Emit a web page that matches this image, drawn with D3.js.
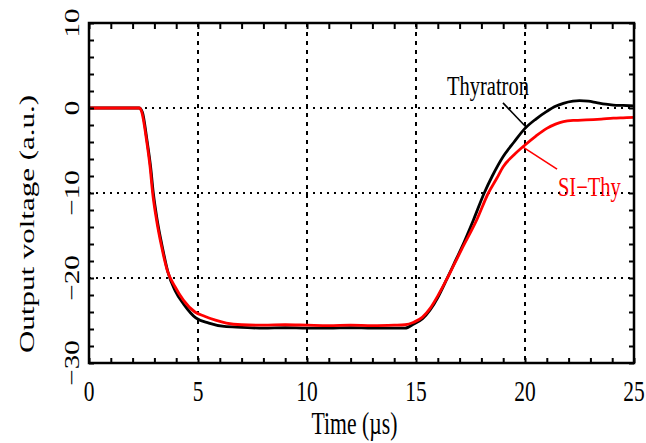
<!DOCTYPE html>
<html>
<head>
<meta charset="utf-8">
<script src="https://cdn.jsdelivr.net/npm/d3@7"></script>
<style>
  html, body { margin: 0; padding: 0; background: #fff; }
  svg { display: block; }
  text { font-family: "Liberation Serif", "Times New Roman", serif; }
</style>
</head>
<body>
<svg id="chart" width="646" height="443"></svg>
<script>
// ---- data ----
const thyTime = [0, 2.3, 2.45, 2.66, 2.83, 2.95, 3.13, 3.36, 3.62, 3.95, 4.35, 4.9, 5.5, 6.2, 7, 8, 9, 10, 11, 12, 13, 14, 14.5, 14.9, 15.3, 15.64, 16.0, 16.4, 16.75, 17.1, 17.63, 18.13, 18.5, 19.0, 19.5, 20.0, 20.5, 21.0, 21.4, 21.76, 22.2, 22.5, 22.9, 23.28, 23.7, 24.05, 24.5, 25];
const thyVolt = [0, 0, -0.5, -3.8, -7, -10, -13.2, -16.3, -19.3, -21.5, -23.1, -24.7, -25.3, -25.7, -25.8, -25.9, -25.85, -25.9, -25.9, -25.85, -25.9, -25.9, -25.9, -25.4, -24.8, -23.8, -22.3, -20.2, -18.3, -16.4, -13.2, -10, -8, -5.7, -4, -2.4, -1.3, -0.4, 0.2, 0.55, 0.8, 0.86, 0.8, 0.63, 0.45, 0.35, 0.3, 0.24];
const siTime = [0, 2.3, 2.41, 2.64, 2.8, 2.92, 3.1, 3.33, 3.59, 3.94, 4.33, 4.86, 5.3, 5.8, 6.3, 7, 8, 9, 10, 11, 12, 13, 14, 14.5, 14.9, 15.3, 15.64, 16.0, 16.4, 16.75, 17.1, 17.78, 18.32, 18.7, 19.0, 19.5, 20.0, 20.5, 21.0, 21.4, 21.76, 22.3, 22.8, 23.5, 24.05, 24.5, 25];
const siVolt = [0, 0, -0.4, -3.8, -6.9, -10, -13.2, -16.3, -19.1, -21, -22.6, -24.0, -24.5, -24.95, -25.3, -25.5, -25.55, -25.5, -25.55, -25.6, -25.55, -25.6, -25.55, -25.5, -25.2, -24.6, -23.6, -22.1, -20.2, -18.4, -16.6, -13.2, -10, -8.3, -6.9, -5.5, -4.35, -3.3, -2.4, -1.9, -1.6, -1.45, -1.4, -1.3, -1.2, -1.15, -1.1];

const xTicks = [0, 5, 10, 15, 20, 25];
const yTicks = [-30, -20, -10, 0, 10];
const xGrid = [5, 10, 15, 20];
const yGrid = [-20, -10, 0];
const xTitle = "Time (\u00b5s)";
const yTitle = "Output voltage (a.u.)";
const seriesNames = ["Thyratron", "SI\u2212Thy"];
const seriesColors = ["#000000", "#ff0000"];
// annotation: [label x, label y, leader start x, y, leader end x, y] in data units
const thyLabel = [18.3, 1.5, 18.99, 0.6, 20.09, -2.35];
const siLabel = [22.95, -10.3, 21.47, -7.2, 19.91, -4.6];

// ---- layout ----
const svg = d3.select("#chart");
const L = 89, R = 634, T = 23, B = 363;
const x = d3.scaleLinear().domain([0, 25]).range([L, R]);
const y = d3.scaleLinear().domain([-30, 10]).range([B, T]);
const KX = 0.74;   // horizontal condensation of the glyphs

// grid
const grid = svg.append("g");
grid.selectAll("line.gx").data(xGrid).join("line")
  .attr("x1", d => x(d)).attr("x2", d => x(d))
  .attr("y1", T).attr("y2", B)
  .attr("stroke", "#000").attr("stroke-width", 2)
  .attr("stroke-dasharray", "4,5");
grid.selectAll("line.gy").data(yGrid).join("line")
  .attr("y1", d => y(d)).attr("y2", d => y(d))
  .attr("x1", L).attr("x2", R)
  .attr("stroke", "#000").attr("stroke-width", 2.2)
  .attr("stroke-dasharray", "2,5");

// curves
const line = d3.line().x(d => x(d[0])).y(d => y(d[1])).curve(d3.curveMonotoneX);
const thy = thyTime.map((t, i) => [t, thyVolt[i]]);
const si = siTime.map((t, i) => [t, siVolt[i]]);
svg.append("path").datum(thy).attr("d", line)
  .attr("fill", "none").attr("stroke", seriesColors[0]).attr("stroke-width", 2.8)
  .attr("stroke-linejoin", "round");
svg.append("path").datum(si).attr("d", line)
  .attr("fill", "none").attr("stroke", seriesColors[1]).attr("stroke-width", 2.8)
  .attr("stroke-linejoin", "round");

// axes with inward ticks on all four sides
const minorX = d3.range(0, 26, 1);
const minorY = d3.range(-30, 11, 2);
const axB = d3.axisBottom(x).tickValues(minorX).tickSize(-5).tickFormat("");
const axT = d3.axisTop(x).tickValues(minorX).tickSize(-6).tickFormat("");
const axL = d3.axisLeft(y).tickValues(minorY).tickSize(-5).tickFormat("");
const axR = d3.axisRight(y).tickValues(minorY).tickSize(-5).tickFormat("");
function styleAx(g) {
  g.select(".domain").remove();
  g.selectAll(".tick line").attr("stroke", "#000").attr("stroke-width", 2);
}
svg.append("g").attr("transform", `translate(0,${B})`).call(axB).call(styleAx);
svg.append("g").attr("transform", `translate(0,${T})`).call(axT).call(styleAx);
svg.append("g").attr("transform", `translate(${L},0)`).call(axL).call(styleAx);
svg.append("g").attr("transform", `translate(${R},0)`).call(axR).call(styleAx);
svg.append("rect").attr("x", L).attr("y", T).attr("width", R - L).attr("height", B - T)
  .attr("fill", "none").attr("stroke", "#000").attr("stroke-width", 2.5);

// tick labels
const fmt = d => (d < 0 ? "\u2212" + Math.abs(d) : String(d));
svg.selectAll("text.xl").data(xTicks).join("text")
  .attr("transform", d => `translate(${x(d)},401) scale(${KX},1)`)
  .attr("text-anchor", "middle").attr("font-size", 29).attr("fill", "#000")
  .text(fmt);
svg.selectAll("text.yl").data(yTicks).join("text")
  .attr("transform", d => `translate(79,${y(d)}) scale(${KX},1) rotate(-90)`)
  .attr("text-anchor", "middle").attr("font-size", 29).attr("fill", "#000")
  .text(fmt);

// axis titles
svg.append("text")
  .attr("transform", `translate(${(L + R) / 2 - 7},434) scale(0.7,1)`)
  .attr("text-anchor", "middle").attr("font-size", 31).attr("fill", "#000")
  .text(xTitle);
svg.append("text")
  .attr("transform", `translate(34,224) scale(0.7,1) rotate(-90)`)
  .attr("text-anchor", "middle").attr("font-size", 31).attr("fill", "#000")
  .text(yTitle);

// annotations
function annotate(a, name, color) {
  svg.append("line")
    .attr("x1", x(a[2])).attr("y1", y(a[3]))
    .attr("x2", x(a[4])).attr("y2", y(a[5]))
    .attr("stroke", color).attr("stroke-width", 1.6);
  svg.append("text")
    .attr("transform", `translate(${x(a[0])},${y(a[1])}) scale(0.76,1)`)
    .attr("text-anchor", "middle").attr("font-size", 27).attr("fill", color)
    .text(name);
}
annotate(thyLabel, seriesNames[0], seriesColors[0]);
annotate(siLabel, seriesNames[1], seriesColors[1]);
</script>
</body>
</html>
